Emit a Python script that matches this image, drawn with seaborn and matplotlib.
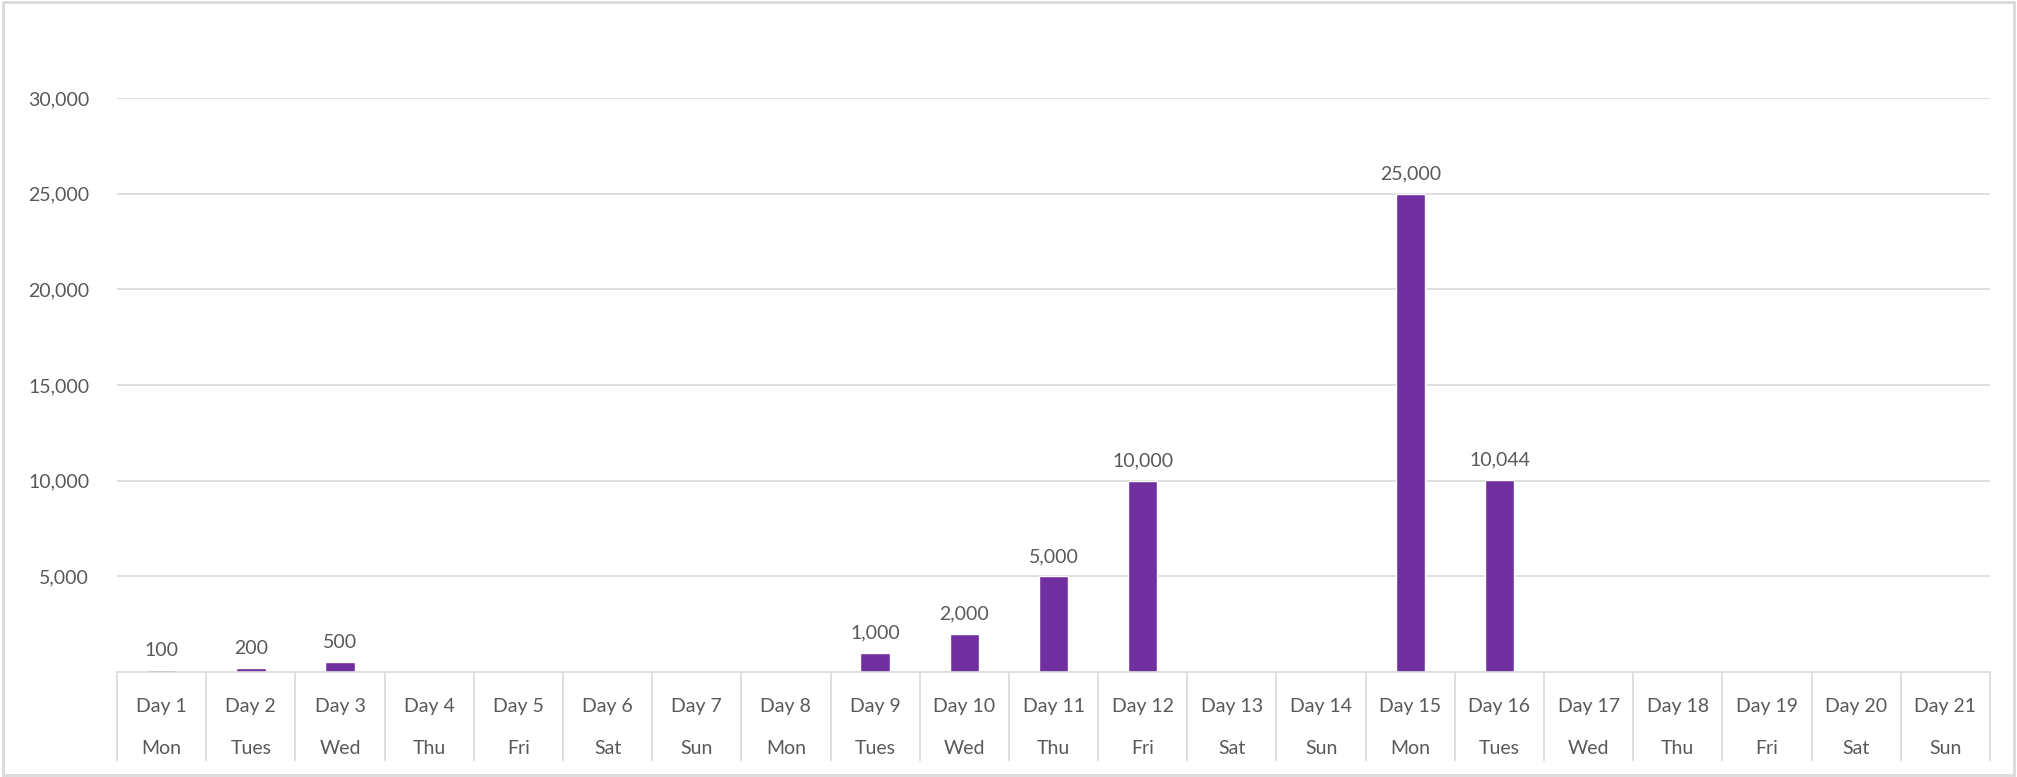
import numpy as np
import pandas as pd
import matplotlib
matplotlib.use("Agg")
import matplotlib.pyplot as plt
import seaborn as sns
from matplotlib.patches import Rectangle
from matplotlib.ticker import FuncFormatter, FixedLocator

days = [f"Day {i}" for i in range(1, 22)]
weekdays = ["Mon", "Tues", "Wed", "Thu", "Fri", "Sat", "Sun",
            "Mon", "Tues", "Wed", "Thu", "Fri", "Sat", "Sun",
            "Mon", "Tues", "Wed", "Thu", "Fri", "Sat", "Sun"]
values = [100, 200, 500, np.nan, np.nan, np.nan, np.nan,
          np.nan, 1000, 2000, 5000, 10000, np.nan, np.nan,
          25000, 10044, np.nan, np.nan, np.nan, np.nan, np.nan]
y_ticks = [5000, 10000, 15000, 20000, 25000, 30000]

sns.set_theme(style="white")
plt.rcParams['font.family'] = ['Lato', 'DejaVu Sans']

TXT = "#595959"
GRID = "#d9d9d9"
BAR = "#7030a0"
FS = 14

df = pd.DataFrame({"day": days, "value": values})

fig = plt.figure(figsize=(20.17, 7.77), dpi=100)
ax = fig.add_axes([117/2017, 1 - 672/777, (1990 - 117)/2017, (672 - 98)/777])

sns.barplot(data=df, x="day", y="value", color=BAR, width=0.33,
            saturation=1, ax=ax, order=days)

for c in ax.containers:
    labels = [f"{v:,.0f}" if not np.isnan(v) else "" for v in c.datavalues]
    ax.bar_label(c, labels=labels, padding=8, fontsize=FS, color=TXT)

ax.set_xlim(-0.5, len(days) - 0.5)
ax.set_ylim(0, 30000)
ax.set_yticks(y_ticks)
ax.yaxis.set_major_formatter(FuncFormatter(lambda v, p: f"{v:,.0f}"))
ax.tick_params(axis="y", length=0, labelsize=FS, labelcolor=TXT, pad=20)
ax.grid(axis="y", color=GRID, linewidth=1.2)
ax.set_axisbelow(True)
ax.set_xlabel("")
ax.set_ylabel("")

for s in ["top", "right", "left"]:
    ax.spines[s].set_visible(False)
ax.spines["bottom"].set_color(GRID)
ax.spines["bottom"].set_linewidth(1.2)

# category labels (two levels)
ax.set_xticks(range(len(days)))
ax.set_xticklabels(days)
ax.tick_params(axis="x", length=0, labelsize=FS, labelcolor=TXT, pad=19)
for i, wd in enumerate(weekdays):
    ax.annotate(wd, xy=(i, 0), xycoords=("data", "axes fraction"),
                xytext=(0, -77), textcoords="offset pixels",
                ha="center", va="center", fontsize=FS, color=TXT)

# category separators
ax.xaxis.set_minor_locator(FixedLocator(np.arange(-0.5, len(days), 1.0)))
ax.tick_params(axis="x", which="minor", length=64, width=1.2, color=GRID,
               direction="out", bottom=True)

fig.patches.append(Rectangle((0.0015, 0.002), 0.997, 0.996, transform=fig.transFigure,
                             fill=False, edgecolor=GRID, linewidth=2))

fig.savefig("out.png", dpi=100, facecolor="white")
